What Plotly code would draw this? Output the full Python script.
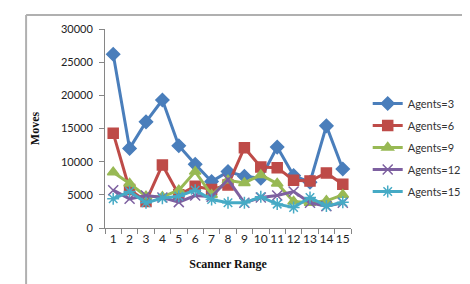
import plotly.graph_objects as go

scanner_range = list(range(1, 16))
agents3 = [26200, 12000, 16000, 19300, 12400, 9600, 7000, 8500, 7800, 7500, 12200, 7900, 6900, 15400, 8900]
agents6 = [14300, 5800, 4000, 9500, 5000, 6300, 5800, 6500, 12100, 9200, 9100, 7200, 7100, 8300, 6600]
agents9 = [8400, 6700, 4800, 4700, 5700, 8500, 5000, 7200, 6800, 8000, 6700, 4000, 3800, 4100, 5000]
agents12 = [5700, 4400, 4900, 4600, 3900, 4900, 4700, 7300, 3800, 4600, 4900, 5500, 3800, 3300, 3800]
agents15 = [4400, 5500, 3800, 4500, 4800, 5700, 4300, 3800, 3800, 4700, 3600, 3100, 4600, 3300, 3900]
y_ticks = [0, 5000, 10000, 15000, 20000, 25000, 30000]

series = [
    ("Agents=3", agents3, "#4a7ebb", "diamond", 10),
    ("Agents=6", agents6, "#be4b48", "square", 10),
    ("Agents=9", agents9, "#98b954", "triangle-up", 10),
    ("Agents=12", agents12, "#7d60a0", "x-thin-open", 10),
    ("Agents=15", agents15, "#46aac5", "asterisk-open", 10),
]

fig = go.Figure()
for name, vals, color, sym, size in series:
    fig.add_trace(go.Scatter(
        x=scanner_range, y=vals, name=name, mode="lines+markers",
        legendgroup=name,
        line=dict(color=color, width=3),
        marker=dict(symbol=sym, size=size, color=color,
                    line=dict(color=color, width=1.5)),
    ))

L, R, T, B = 97, 108, 21, 64
W, H = 470, 284
pw, ph = W - L - R, H - T - B

fig.update_layout(
    width=W, height=H,
    margin=dict(l=L, r=R, t=T, b=B),
    paper_bgcolor="white", plot_bgcolor="white",
    font=dict(family="Lato, Liberation Sans, sans-serif", size=11, color="#333333"),
    showlegend=True,
    legend=dict(x=(380 - L) / pw, y=(220 - 81) / ph, xanchor="left", yanchor="top",
                font=dict(size=11, color="#333333"), tracegroupgap=3,
                bgcolor="rgba(0,0,0,0)"),
    xaxis=dict(range=[0.5, 15.5], tickmode="array", tickvals=scanner_range,
               ticktext=[str(v) for v in scanner_range], ticks="",
               showgrid=False, zeroline=False, showline=True,
               linecolor="#868686", linewidth=1,
               minor=dict(ticks="outside", tick0=0.5, dtick=1, ticklen=5,
                          tickcolor="#868686", showgrid=False),
               tickfont=dict(size=12, color="#222222"),
               title=dict(text="<b>Scanner Range</b>",
                          font=dict(family="Liberation Serif, serif", size=12, color="#111111"),
                          standoff=14)),
    yaxis=dict(range=[0, 30000], tickmode="array", tickvals=y_ticks,
               ticktext=[str(v) for v in y_ticks],
               ticks="outside", ticklen=5, tickcolor="#868686",
               showgrid=False, zeroline=False, showline=True,
               linecolor="#868686", linewidth=1,
               tickfont=dict(size=11, color="#222222"),
               ticklabelstandoff=4,
               title=dict(text="<b>Moves</b>",
                          font=dict(family="Liberation Serif, serif", size=12, color="#111111"),
                          standoff=18)),
    shapes=[
        dict(type="line", xref="paper", yref="paper",
             x0=(12 - L) / pw, x1=(12 - L) / pw, y0=1 + (T - 7) / ph, y1=-1,
             line=dict(color="#b0b0b0", width=2)),
        dict(type="line", xref="paper", yref="paper",
             x0=(12 - L) / pw, x1=2, y0=1 + (T - 7) / ph, y1=1 + (T - 7) / ph,
             line=dict(color="#b0b0b0", width=2)),
    ],
)

fig.write_html("out.html")
